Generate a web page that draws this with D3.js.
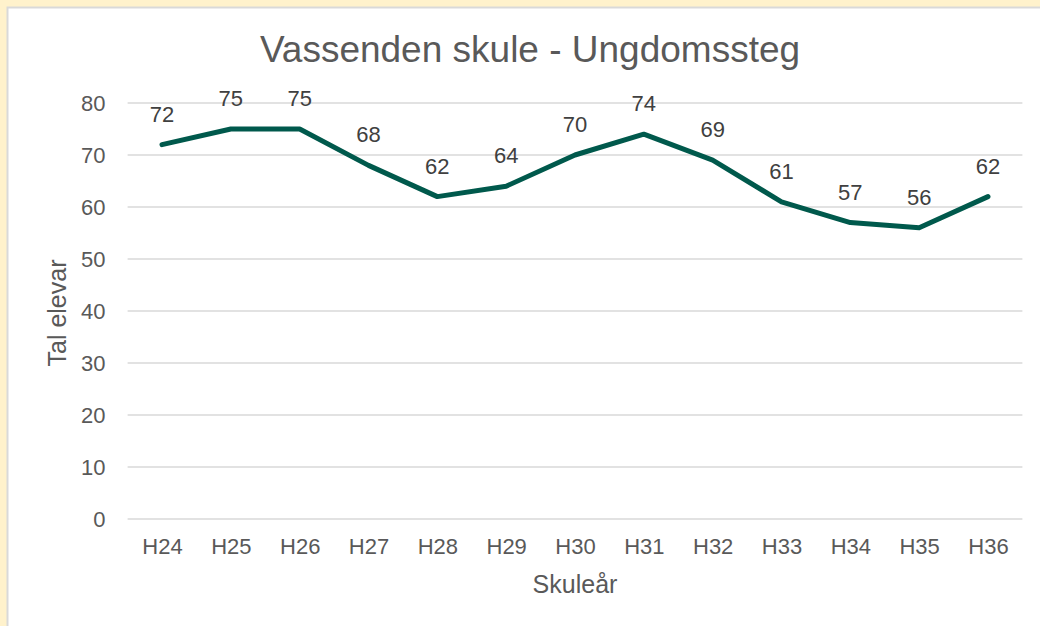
<!DOCTYPE html>
<html>
<head>
<meta charset="UTF-8">
<title>Vassenden skule - Ungdomssteg</title>
<script src="https://d3js.org/d3.v7.min.js"></script>
<style>
  body { margin: 0; background: #FFF2CC; }
  svg { display: block; }
  svg text { font-family: "Liberation Sans", Arial, sans-serif; }
</style>
</head>
<body>
<svg id="viz" width="1040" height="626"></svg>
<script>
// data
var years = ["H24","H25","H26","H27","H28","H29","H30","H31","H32","H33","H34","H35","H36"];
var pupils = [72, 75, 75, 68, 62, 64, 70, 74, 69, 61, 57, 56, 62];
var yTicks = [0, 10, 20, 30, 40, 50, 60, 70, 80];

var svg = d3.select("#viz");

// white chart panel with grey edge
svg.append("rect")
  .attr("x", 7.5).attr("y", 7.5)
  .attr("width", 1040).attr("height", 626)
  .attr("fill", "#fff")
  .attr("stroke", "#d9d9d9")
  .attr("stroke-width", 2);

var margin = {top: 103, left: 127.6, right: 17.6, bottom: 107},
    width = 1040 - margin.left - margin.right,
    height = 626 - margin.top - margin.bottom;

var g = svg.append("g").attr("transform", "translate(" + margin.left + "," + margin.top + ")");

var x = d3.scalePoint().domain(years).range([0, width]).padding(0.5);
var y = d3.scaleLinear().domain([0, 80]).range([height, 0]);

// gridlines
g.selectAll(".grid")
  .data(yTicks)
  .enter().append("line")
    .attr("x1", 0).attr("x2", width)
    .attr("y1", function(d) { return y(d); })
    .attr("y2", function(d) { return y(d); })
    .attr("stroke", "#d9d9d9")
    .attr("stroke-width", 1.3);

// axes
var yAxis = g.append("g")
  .call(d3.axisLeft(y).tickValues(yTicks).tickSize(0).tickPadding(22));
yAxis.select(".domain").remove();
yAxis.attr("font-family", null).attr("font-size", null);
yAxis.selectAll("text")
  .attr("fill", "#595959")
  .style("font-size", "22px");

var xAxis = g.append("g")
  .attr("transform", "translate(0," + height + ")")
  .call(d3.axisBottom(x).tickSize(0).tickPadding(19));
xAxis.select(".domain").remove();
xAxis.attr("font-family", null).attr("font-size", null);
xAxis.selectAll("text")
  .attr("fill", "#595959")
  .style("font-size", "22px");

// line
var line = d3.line()
  .x(function(d, i) { return x(years[i]); })
  .y(function(d) { return y(d); });

g.append("path")
  .datum(pupils)
  .attr("fill", "none")
  .attr("stroke", "#00594C")
  .attr("stroke-width", 5)
  .attr("stroke-linejoin", "round")
  .attr("stroke-linecap", "round")
  .attr("d", line);

// data labels
g.selectAll(".lbl")
  .data(pupils)
  .enter().append("text")
    .attr("x", function(d, i) { return x(years[i]); })
    .attr("y", function(d) { return y(d) - 23; })
    .attr("text-anchor", "middle")
    .attr("fill", "#404040")
    .style("font-size", "22px")
    .text(function(d) { return d; });

// titles
svg.append("text")
  .attr("x", 530).attr("y", 62)
  .attr("text-anchor", "middle")
  .attr("fill", "#595959")
  .style("font-size", "37px")
  .text("Vassenden skule - Ungdomssteg");

svg.append("text")
  .attr("transform", "translate(66,313) rotate(-90)")
  .attr("text-anchor", "middle")
  .attr("fill", "#595959")
  .style("font-size", "25px")
  .text("Tal elevar");

svg.append("text")
  .attr("x", margin.left + width / 2).attr("y", 593)
  .attr("text-anchor", "middle")
  .attr("fill", "#595959")
  .style("font-size", "25px")
  .text("Skuleår");
</script>
</body>
</html>
